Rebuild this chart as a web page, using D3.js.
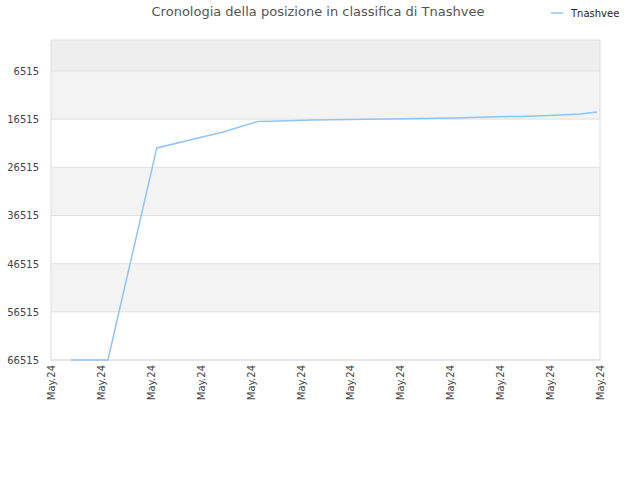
<!DOCTYPE html><html><head><meta charset="utf-8">
<script src="https://cdn.jsdelivr.net/npm/d3@7"></script>
<style>body{margin:0;background:#fff}text{font-family:"DejaVu Sans",sans-serif}</style></head><body>
<svg id="c" width="640" height="480"></svg>
<script>
const xVals=[4,11.4,21.2,34.5,41.5,45.5,52.5,60,67.3,74,81,87.3,94,100,106,109.4];
const yVals=[66515,66515,22490,19170,16990,16890,16680,16580,16470,16370,16260,16060,15950,15750,15440,15020];
const tickVals=[6515,16515,26515,36515,46515,56515,66515];
const xTickLabels=Array(12).fill("May.24");
const svg=d3.select("#c");
const L=51,R=600,T=40,B=360;
const x=d3.scaleLinear().domain([0,110]).range([L,R]);
const y=d3.scaleLinear().domain([83,66515]).range([T,B]);
const edges=[83,...tickVals];
for(let i=0;i<edges.length-1;i++){
  const fill=i===0?"#eeeeee":(i%2===1?"#f3f3f3":"#ffffff");
  svg.append("rect").attr("x",L).attr("y",y(edges[i])).attr("width",R-L).attr("height",y(edges[i+1])-y(edges[i])).attr("fill",fill);
}
svg.append("g").selectAll("line").data(tickVals).join("line").attr("x1",L).attr("x2",R).attr("y1",d=>y(d)).attr("y2",d=>y(d)).attr("stroke","#e0e0e0");
svg.append("rect").attr("x",L).attr("y",T).attr("width",R-L).attr("height",B-T).attr("fill","none").attr("stroke","#dddddd");
svg.append("g").selectAll("text").data(tickVals).join("text").attr("x",L-12).attr("y",d=>y(d)+4).attr("text-anchor","end").attr("font-size",10).attr("fill","#444").text(d=>d);
svg.append("g").selectAll("text").data(xTickLabels).join("text").attr("transform",(d,i)=>`translate(${x(i*10)+4},${B+5}) rotate(-90)`).attr("text-anchor","end").attr("font-size",10).attr("fill","#444").text(d=>d);
svg.append("path").datum(xVals.map((v,i)=>[v,yVals[i]])).attr("d",d3.line().x(d=>x(d[0])).y(d=>y(d[1]))).attr("fill","none").attr("stroke","#90c4f4").attr("stroke-width",1.5);
svg.append("text").attr("x",318).attr("y",16).attr("text-anchor","middle").attr("font-size",13).attr("fill","#555").text("Cronologia della posizione in classifica di Tnashvee");
svg.append("line").attr("x1",551).attr("x2",563).attr("y1",13).attr("y2",13).attr("stroke","#90c4f4").attr("stroke-width",1.5);
svg.append("text").attr("x",571).attr("y",17).attr("font-size",10).attr("fill","#222").text("Tnashvee");
</script></body></html>
